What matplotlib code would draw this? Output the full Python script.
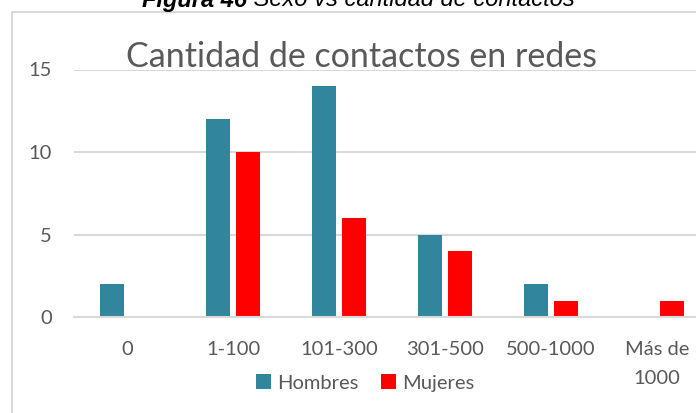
import matplotlib
matplotlib.use("Agg")
import matplotlib.pyplot as plt
import numpy as np
from matplotlib.patches import Rectangle

# Contact ranges and counts per group
categories = ["0", "1-100", "101-300", "301-500", "500-1000", "Más de\n1000"]
hombres = [2, 12, 14, 5, 2, 0]
mujeres = [0, 10, 6, 4, 1, 1]
y_ticks = [0, 5, 10, 15]

TEAL = "#31859C"
RED = "#FF0000"
GRID = "#D9D9D9"
TEXT = "#595959"
FONT = "Lato"
W, H = 696, 413


def fx(px):
    return px / W


def fy(py):
    return 1 - py / H


fig = plt.figure(figsize=(W / 100, H / 100), dpi=100)

# outer chart frame (runs off the right and bottom edges)
fig.patches.append(Rectangle((fx(12), -0.5), 1.5, fy(12) + 0.5,
                             transform=fig.transFigure, fill=False,
                             edgecolor=GRID, linewidth=1.5))

ax = fig.add_axes([fx(74), fy(317), (710 - 74) / W, (317 - 69.5) / H])
x = np.arange(len(categories))
w = 0.225
off = 0.142
ax.bar(x - off, hombres, w, color=TEAL, label="Hombres", zorder=3)
ax.bar(x + off, mujeres, w, color=RED, label="Mujeres", zorder=3)

ax.set_xlim(-0.5, len(categories) - 0.5)
ax.set_ylim(0, 15)
ax.set_yticks(y_ticks)
ax.yaxis.grid(True, color=GRID, linewidth=1.5, zorder=0)
ax.set_axisbelow(True)
for side in ["top", "right", "left"]:
    ax.spines[side].set_visible(False)
ax.spines["bottom"].set_color(GRID)
ax.spines["bottom"].set_linewidth(1.5)
ax.spines["bottom"].set_zorder(4)
ax.set_xticks(x)
ax.set_xticklabels(categories, family=FONT, fontsize=14.5, color=TEXT,
                   linespacing=1.8)
ax.tick_params(axis="x", length=0, pad=17.5)
ax.tick_params(axis="y", length=0, pad=16, labelsize=14.5, labelcolor=TEXT)
for lab in ax.get_yticklabels():
    lab.set_family(FONT)

fig.text(fx(361), fy(67), "Cantidad de contactos en redes", family=FONT,
         fontsize=24.5, color=TEXT, ha="center", va="baseline")

fig.legend(loc="center", bbox_to_anchor=(fx(365), fy(383)),
           ncol=2, frameon=False, handlelength=0.75, handleheight=0.75,
           handletextpad=0.3, columnspacing=1.1,
           prop={"family": FONT, "size": 14.5}, labelcolor=TEXT)

# caption above the frame, partly cut by the top edge
cap = fig.text(fx(142), fy(6.5), "Figura 46", family="Liberation Sans",
               style="italic", weight="bold", fontsize=17, ha="left",
               va="baseline")
ax.annotate(" Sexo vs cantidad de contactos", xy=(1, 0), xycoords=cap,
            va="bottom", ha="left", family="Liberation Sans", style="italic",
            fontsize=17, annotation_clip=False)

fig.savefig("out.png", dpi=100)
